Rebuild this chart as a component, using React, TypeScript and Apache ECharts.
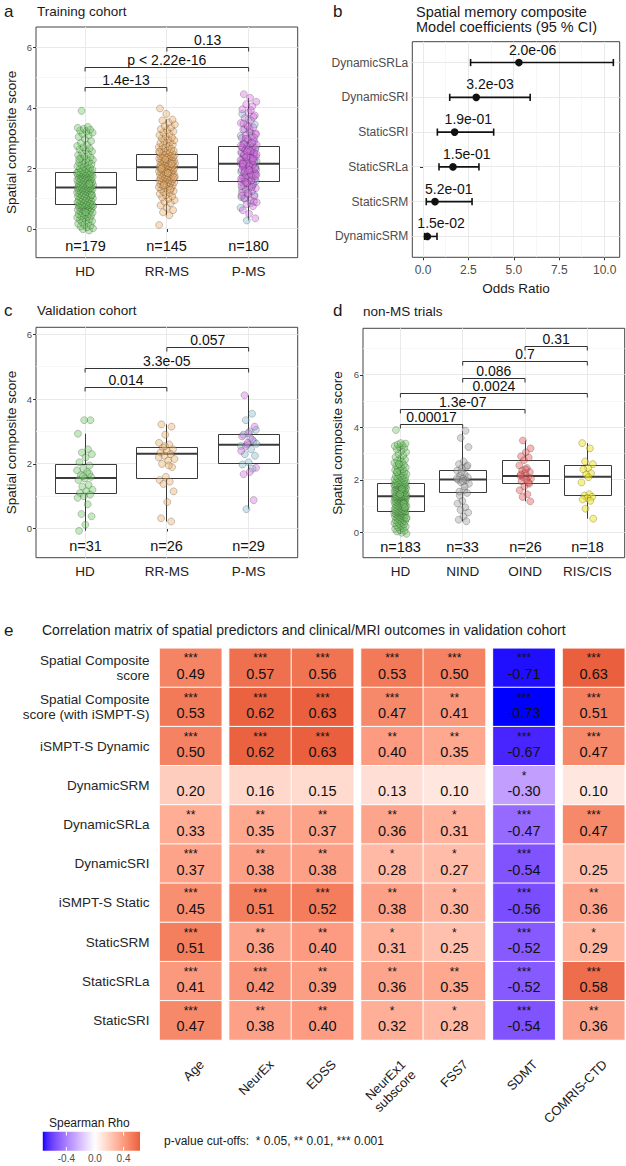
import React, { useEffect, useRef } from "react";
import * as echarts from "echarts";

const FONT = '"Liberation Sans", Arial, Helvetica, sans-serif';

// ---------------- a: training cohort ----------------
const groupsTrain = ["HD", "RR-MS", "P-MS"];
const trainHD = [
  -0.05, -0.01, 0.02, 0.05, 0.08, 0.11, 0.14, 0.17, 0.2, 0.23,
  0.26, 0.28, 0.31, 0.33, 0.36, 0.38, 0.4, 0.42, 0.44, 0.46,
  0.48, 0.5, 0.52, 0.54, 0.56, 0.58, 0.6, 0.61, 0.63, 0.65,
  0.66, 0.68, 0.69, 0.71, 0.72, 0.73, 0.75, 0.76, 0.77, 0.78,
  0.79, 0.79, 0.8, 0.8, 0.81, 0.83, 0.84, 0.86, 0.87, 0.89,
  0.9, 0.92, 0.93, 0.95, 0.96, 0.98, 0.99, 1.01, 1.02, 1.04,
  1.05, 1.07, 1.08, 1.1, 1.11, 1.13, 1.14, 1.16, 1.17, 1.19,
  1.2, 1.22, 1.23, 1.24, 1.26, 1.27, 1.28, 1.3, 1.31, 1.32,
  1.33, 1.34, 1.35, 1.36, 1.37, 1.38, 1.4, 1.41, 1.42, 1.43,
  1.44, 1.45, 1.46, 1.47, 1.49, 1.5, 1.51, 1.52, 1.53, 1.55,
  1.56, 1.57, 1.59, 1.6, 1.61, 1.63, 1.64, 1.65, 1.67, 1.68,
  1.69, 1.7, 1.72, 1.73, 1.74, 1.75, 1.77, 1.78, 1.79, 1.8,
  1.81, 1.82, 1.83, 1.84, 1.85, 1.85, 1.86, 1.87, 1.88, 1.89,
  1.9, 1.92, 1.94, 1.96, 1.98, 2.0, 2.02, 2.05, 2.07, 2.09,
  2.12, 2.14, 2.17, 2.19, 2.22, 2.25, 2.28, 2.31, 2.34, 2.37,
  2.4, 2.44, 2.48, 2.52, 2.56, 2.6, 2.63, 2.66, 2.7, 2.74,
  2.78, 2.84, 2.9, 2.97, 3.04, 3.1, 3.14, 3.18, 3.22, 3.25,
  3.28, 3.31, 3.34, 3.37, 3.9, 1.12, 0.55, 2.3, 1.48,
];
const trainRRMS = [
  0.13, 0.45, 0.55, 0.62, 0.7, 0.78, 0.85, 0.9, 0.95, 1.0,
  1.04, 1.08, 1.12, 1.16, 1.19, 1.22, 1.25, 1.28, 1.31, 1.34,
  1.36, 1.38, 1.4, 1.42, 1.44, 1.46, 1.48, 1.5, 1.52, 1.54,
  1.55, 1.57, 1.58, 1.6, 1.61, 1.62, 1.64, 1.65, 1.66, 1.68,
  1.69, 1.71, 1.72, 1.73, 1.75, 1.76, 1.77, 1.79, 1.8, 1.82,
  1.83, 1.84, 1.86, 1.87, 1.88, 1.9, 1.91, 1.93, 1.94, 1.95,
  1.97, 1.98, 1.99, 2.01, 2.02, 2.03, 2.04, 2.05, 2.06, 2.07,
  2.09, 2.1, 2.11, 2.12, 2.14, 2.15, 2.16, 2.17, 2.19, 2.2,
  2.21, 2.22, 2.24, 2.25, 2.26, 2.28, 2.29, 2.3, 2.32, 2.33,
  2.34, 2.36, 2.37, 2.38, 2.4, 2.41, 2.42, 2.44, 2.45, 2.46,
  2.48, 2.5, 2.52, 2.54, 2.56, 2.58, 2.6, 2.62, 2.64, 2.67,
  2.7, 2.72, 2.75, 2.78, 2.81, 2.84, 2.87, 2.9, 2.93, 2.96,
  2.99, 3.02, 3.06, 3.1, 3.14, 3.18, 3.22, 3.26, 3.3, 3.35,
  3.4, 3.45, 3.52, 3.58, 3.61, 3.8, 3.98, 1.3, 1.45, 1.7,
  1.85, 2.0, 2.15, 2.3, 2.55,
];
const trainPMSpink = [
  0.35, 0.5, 0.62, 0.75, 0.82, 0.88, 0.95, 1.02, 1.08, 1.14,
  1.2, 1.25, 1.3, 1.35, 1.4, 1.44, 1.48, 1.52, 1.56, 1.59,
  1.62, 1.65, 1.68, 1.71, 1.74, 1.77, 1.8, 1.83, 1.86, 1.89,
  1.92, 1.95, 1.98, 2.01, 2.04, 2.07, 2.1, 2.12, 2.14, 2.16,
  2.18, 2.21, 2.24, 2.27, 2.3, 2.33, 2.36, 2.39, 2.42, 2.45,
  2.48, 2.51, 2.54, 2.57, 2.6, 2.63, 2.66, 2.69, 2.71, 2.74,
  2.78, 2.82, 2.86, 2.9, 2.95, 3.0, 3.05, 3.1, 3.16, 3.22,
  3.28, 3.35, 3.42, 3.5, 3.58, 3.66, 3.75, 3.85, 3.95, 4.05,
  4.12, 4.2, 4.33, 4.45, 0.9, 1.18, 1.42, 1.6, 1.72, 1.84,
  1.96, 2.06, 2.13, 2.2, 2.28, 2.35, 2.44, 2.52, 2.62, 2.7,
  2.85, 2.98, 3.12, 3.3, 3.48, 3.7, 1.5, 1.66, 1.78, 1.9,
  2.0, 2.09, 2.17, 2.25, 2.38, 2.47, 2.58, 2.8, 3.02, 3.38,
  1.1, 1.38, 1.55, 1.75, 1.94, 2.15, 2.32, 2.56, 2.75, 3.92,
];
const trainPMSblue = [
  0.28, 0.7, 0.85, 1.0, 1.12, 1.22, 1.32, 1.42, 1.5, 1.58,
  1.64, 1.7, 1.76, 1.82, 1.88, 1.93, 1.98, 2.03, 2.08, 2.12,
  2.16, 2.2, 2.24, 2.29, 2.34, 2.39, 2.44, 2.5, 2.56, 2.62,
  2.68, 2.75, 2.82, 2.9, 2.98, 3.08, 3.18, 3.3, 3.45, 3.62,
  3.8, 1.45, 1.68, 1.95, 2.1, 2.26, 2.48, 2.72, 1.05, 2.6,
];
// [lower whisker, Q1, median, Q3, upper whisker]
const trainBoxes = [
  [-0.05, 0.8, 1.37, 1.87, 3.37],
  [0.45, 1.61, 2.04, 2.45, 3.61],
  [0.28, 1.58, 2.15, 2.71, 4.33],
];
const trainTests: [number, number, string][] = [
  [1, 2, "1.4e-13"],
  [1, 3, "p < 2.22e-16"],
  [2, 3, "0.13"],
];

// ---------------- b: model coefficients ----------------
const predictors = ["DynamicSRM", "StaticSRM", "StaticSRLa", "StaticSRI", "DynamicSRI", "DynamicSRLa"];
const oddsRatio = [0.24, 0.66, 1.65, 1.74, 2.93, 5.28];
const ciLow = [0.09, 0.18, 0.88, 0.79, 1.47, 2.62];
const ciHigh = [0.77, 2.7, 3.08, 3.89, 5.9, 10.48];
const coefP = ["1.5e-02", "5.2e-01", "1.5e-01", "1.9e-01", "3.2e-03", "2.0e-06"];
const orTicks = [0, 2.5, 5, 7.5, 10];

// ---------------- c: validation cohort ----------------
const valHD = [
  3.35, 3.35, 2.93, 2.45, 2.35, 2.3, 2.2, 2.05, 1.95, 1.85,
  1.8, 1.75, 1.65, 1.6, 1.55, 1.5, 1.35, 1.3, 1.2, 1.15,
  1.1, 1.05, 1.0, 0.95, 0.75, 0.45, 0.38, 0.12, -0.07, 1.7,
  1.62,
];
const valRRMS = [
  3.22, 3.15, 2.9, 2.65, 2.6, 2.5, 2.45, 2.4, 2.35, 2.3,
  2.25, 2.15, 2.1, 2.0, 1.9, 1.6, 1.5, 1.45, 1.38, 1.15,
  0.82, 0.32, 0.22, 2.55, 2.2, 1.95,
];
const valPMSpink = [4.12, 3.15, 2.95, 2.85, 2.75, 2.55, 1.88, 1.75, 1.68, 0.88, 2.65, 2.4];
const valPMSblue = [
  3.55, 3.35, 3.05, 3.0, 2.9, 2.7, 2.6, 2.55, 2.45, 2.3,
  2.25, 2.05, 1.98, 1.85, 0.6, 2.62, 2.8,
];
const valBoxes = [
  [-0.07, 1.09, 1.56, 1.98, 2.93],
  [0.22, 1.56, 2.31, 2.5, 3.22],
  [0.6, 2.02, 2.59, 2.9, 4.12],
];
const valTests: [number, number, string][] = [
  [1, 2, "0.014"],
  [1, 3, "3.3e-05"],
  [2, 3, "0.057"],
];

// ---------------- d: non-MS trials ----------------
const groupsNonMS = ["HD", "NIND", "OIND", "RIS/CIS"];
const nonMsHD = [
  -0.06, -0.02, 0.03, 0.06, 0.09, 0.13, 0.16, 0.19, 0.22, 0.25,
  0.27, 0.3, 0.32, 0.35, 0.37, 0.39, 0.42, 0.44, 0.46, 0.48,
  0.5, 0.52, 0.54, 0.56, 0.57, 0.59, 0.61, 0.63, 0.64, 0.66,
  0.67, 0.69, 0.7, 0.72, 0.73, 0.74, 0.76, 0.77, 0.78, 0.79,
  0.8, 0.8, 0.81, 0.82, 0.84, 0.85, 0.87, 0.88, 0.9, 0.91,
  0.93, 0.94, 0.96, 0.97, 0.99, 1.0, 1.02, 1.03, 1.05, 1.06,
  1.08, 1.09, 1.11, 1.12, 1.14, 1.15, 1.16, 1.18, 1.19, 1.21,
  1.22, 1.23, 1.25, 1.26, 1.27, 1.29, 1.3, 1.31, 1.32, 1.33,
  1.34, 1.35, 1.35, 1.36, 1.36, 1.37, 1.37, 1.38, 1.39, 1.4,
  1.41, 1.42, 1.44, 1.45, 1.46, 1.48, 1.49, 1.5, 1.52, 1.53,
  1.54, 1.56, 1.57, 1.58, 1.6, 1.61, 1.62, 1.64, 1.65, 1.66,
  1.68, 1.69, 1.7, 1.72, 1.73, 1.74, 1.76, 1.77, 1.78, 1.79,
  1.8, 1.81, 1.82, 1.83, 1.84, 1.85, 1.85, 1.86, 1.87, 1.88,
  1.9, 1.92, 1.94, 1.96, 1.98, 2.0, 2.02, 2.05, 2.07, 2.09,
  2.12, 2.14, 2.17, 2.19, 2.22, 2.25, 2.28, 2.31, 2.34, 2.37,
  2.4, 2.43, 2.47, 2.5, 2.54, 2.58, 2.61, 2.65, 2.69, 2.73,
  2.77, 2.82, 2.87, 2.93, 2.99, 3.05, 3.11, 3.17, 3.22, 3.26,
  3.29, 3.32, 3.35, 3.38, 3.4, 3.9, 1.1, 2.6, 0.55, 1.65,
  2.3, 0.95, 1.45,
];
const nonMsNIND = [
  3.87, 3.6, 3.25, 2.7, 2.6, 2.5, 2.45, 2.35, 2.2, 2.15,
  2.1, 2.05, 2.0, 1.98, 1.9, 1.85, 1.6, 1.55, 1.5, 1.2,
  1.1, 0.95, 0.85, 0.75, 0.6, 0.48, 0.42, 2.3, 2.05, 1.75,
  1.4, 2.55, 1.95,
];
const nonMsOIND = [
  3.5, 3.2, 3.05, 2.9, 2.85, 2.75, 2.55, 2.45, 2.35, 2.3,
  2.25, 2.15, 2.1, 2.1, 2.05, 2.0, 1.95, 1.85, 1.75, 1.6,
  1.45, 1.35, 1.18, 2.4, 2.2, 1.9,
];
const nonMsRIS = [
  3.4, 3.2, 2.7, 2.6, 2.45, 2.4, 2.25, 2.2, 1.9, 1.45,
  1.4, 1.35, 1.3, 1.25, 1.2, 0.9, 0.52, 2.1,
];
const nonMsBoxes = [
  [-0.06, 0.8, 1.37, 1.85, 3.4],
  [0.42, 1.51, 2.01, 2.37, 3.87],
  [1.18, 1.87, 2.15, 2.72, 3.5],
  [0.52, 1.41, 2.12, 2.56, 3.4],
];
const nonMsTests: [number, number, string][] = [
  [1, 2, "0.00017"],
  [1, 3, "1.3e-07"],
  [1, 4, "0.0024"],
  [2, 3, "0.086"],
  [2, 4, "0.7"],
  [3, 4, "0.31"],
];

// ---------------- e: correlation matrix ----------------
const predictorRows = [
  "Spatial Composite\nscore",
  "Spatial Composite\nscore (with iSMPT-S)",
  "iSMPT-S Dynamic",
  "DynamicSRM",
  "DynamicSRLa",
  "DynamicSRI",
  "iSMPT-S Static",
  "StaticSRM",
  "StaticSRLa",
  "StaticSRI",
];
const outcomeCols = ["Age", "NeurEx", "EDSS", "NeurEx1\nsubscore", "FSS7", "SDMT", "COMRIS-CTD"];
const outcomeGroups = [[0], [1, 2], [3, 4], [5], [6]];
const rho = [
  [0.49, 0.57, 0.56, 0.53, 0.5, -0.71, 0.63],
  [0.53, 0.62, 0.63, 0.47, 0.41, -0.73, 0.51],
  [0.5, 0.62, 0.63, 0.4, 0.35, -0.67, 0.47],
  [0.2, 0.16, 0.15, 0.13, 0.1, -0.3, 0.1],
  [0.33, 0.35, 0.37, 0.36, 0.31, -0.47, 0.47],
  [0.37, 0.38, 0.38, 0.28, 0.27, -0.54, 0.25],
  [0.45, 0.51, 0.52, 0.38, 0.3, -0.56, 0.36],
  [0.51, 0.36, 0.4, 0.31, 0.25, -0.52, 0.29],
  [0.41, 0.42, 0.39, 0.36, 0.35, -0.52, 0.58],
  [0.47, 0.38, 0.4, 0.32, 0.28, -0.54, 0.36],
];
const signif = [
  ["***", "***", "***", "***", "***", "***", "***"],
  ["***", "***", "***", "***", "**", "***", "***"],
  ["***", "***", "***", "**", "**", "***", "***"],
  ["", "", "", "", "", "*", ""],
  ["**", "**", "**", "**", "*", "***", "***"],
  ["***", "**", "**", "*", "*", "***", ""],
  ["***", "***", "***", "**", "*", "***", "**"],
  ["***", "**", "**", "*", "*", "***", "*"],
  ["***", "***", "**", "**", "**", "***", "***"],
  ["***", "**", "**", "*", "*", "***", "**"],
];
const legendTicks = [-0.4, 0, 0.4];

// ---------------- colour helpers (Lab-space diverging scale) ----------------
const lin = (c: number) => {
  c /= 255;
  return c <= 0.04045 ? c / 12.92 : Math.pow((c + 0.055) / 1.055, 2.4);
};
const delin = (c: number) => {
  const v = c <= 0.0031308 ? 12.92 * c : 1.055 * Math.pow(c, 1 / 2.4) - 0.055;
  return Math.round(Math.max(0, Math.min(1, v)) * 255);
};
const KAPPA = 24389 / 27;
const EPS = 216 / 24389;
function hexToLab(hex: string) {
  const r = lin(parseInt(hex.slice(1, 3), 16));
  const g = lin(parseInt(hex.slice(3, 5), 16));
  const b = lin(parseInt(hex.slice(5, 7), 16));
  const X = (0.4124564 * r + 0.3575761 * g + 0.1804375 * b) / 0.95047;
  const Y = 0.2126729 * r + 0.7151522 * g + 0.072175 * b;
  const Z = (0.0193339 * r + 0.119192 * g + 0.9503041 * b) / 1.08883;
  const f = (t: number) => (t > EPS ? Math.cbrt(t) : (KAPPA * t + 16) / 116);
  const fx = f(X), fy = f(Y), fz = f(Z);
  return [116 * fy - 16, 500 * (fx - fy), 200 * (fy - fz)];
}
function labToRgb(L: number, a: number, bb: number) {
  const fy = (L + 16) / 116;
  const fx = fy + a / 500;
  const fz = fy - bb / 200;
  const finv = (t: number) => (t * t * t > EPS ? t * t * t : (116 * t - 16) / KAPPA);
  const X = finv(fx) * 0.95047, Y = finv(fy), Z = finv(fz) * 1.08883;
  const R = 3.2404542 * X - 1.5371385 * Y - 0.4985314 * Z;
  const G = -0.969266 * X + 1.8760108 * Y + 0.041556 * Z;
  const B = 0.0556434 * X - 0.2040259 * Y + 1.0572252 * Z;
  return `rgb(${delin(R)},${delin(G)},${delin(B)})`;
}
const LAB_LOW = hexToLab("#0000FF");
const LAB_MID = hexToLab("#FFFFFF");
const LAB_HIGH = hexToLab("#E0401F");

const allRho = rho.flat();
const rhoMin = Math.min(...allRho);
const rhoMax = Math.max(...allRho);
const rhoSpan = Math.max(Math.abs(rhoMin), Math.abs(rhoMax));
function rhoColor(v: number) {
  const t = Math.min(1, Math.abs(v) / rhoSpan);
  const end = v < 0 ? LAB_LOW : LAB_HIGH;
  return labToRgb(
    LAB_MID[0] + t * (end[0] - LAB_MID[0]),
    LAB_MID[1] + t * (end[1] - LAB_MID[1]),
    LAB_MID[2] + t * (end[2] - LAB_MID[2])
  );
}
const N_STOPS = 41;
const rhoStops = Array.from({ length: N_STOPS }, (_, i) =>
  rhoColor(rhoMin + ((rhoMax - rhoMin) * i) / (N_STOPS - 1))
);

// ---------------- drawing helpers ----------------
const JITTER = 0.1;
const jitter = (i: number, seed: number) => ((((i + 1) * 0.6180339887 + seed) % 1) - 0.5) * 2 * JITTER;

const PT_BORDER = "rgba(35,35,35,0.5)";
function pointSeries(values: number[], cat: number, fill: string, axis: number, seed: number) {
  return {
    type: "scatter",
    xAxisIndex: axis,
    yAxisIndex: axis,
    silent: true,
    z: 3,
    symbolSize: 7,
    itemStyle: { color: fill, borderColor: PT_BORDER, borderWidth: 0.6 },
    data: values.map((v, i) => [cat + jitter(i, seed), v]),
  };
}

const crisp = (v: number) => Math.round(v - 0.5) + 0.5;

// Background grid lines: [value, orientation (0 = horizontal, 1 = vertical), major flag]
function gridLineSeries(axis: number, lines: number[][]) {
  return {
    type: "custom",
    xAxisIndex: axis,
    yAxisIndex: axis,
    silent: true,
    z: 1,
    data: lines,
    renderItem: (params: any, api: any) => {
      const cs = params.coordSys;
      const v = api.value(0);
      const vertical = api.value(1) === 1;
      const major = api.value(2) === 1;
      const style = { stroke: major ? "#e9e9e9" : "#f3f3f3", lineWidth: major ? 1 : 0.7 };
      if (vertical) {
        const x = crisp(api.coord([v, 0])[0]);
        return { type: "line", shape: { x1: x, y1: cs.y, x2: x, y2: cs.y + cs.height }, style };
      }
      const y = crisp(api.coord([0, v])[1]);
      return { type: "line", shape: { x1: cs.x, y1: y, x2: cs.x + cs.width, y2: y }, style };
    },
  };
}

const N_LABEL_Y = -0.55;
function boxSeries(axis: number, boxes: number[][], counts: number[]) {
  return {
    type: "custom",
    xAxisIndex: axis,
    yAxisIndex: axis,
    silent: true,
    z: 2,
    data: boxes.map((b, i) => [i + 1, ...b, counts[i]]),
    renderItem: (_params: any, api: any) => {
      const x = api.value(0);
      const half = api.size([0.375, 0])[0];
      const cx = crisp(api.coord([x, 0])[0]);
      const yLo = api.coord([x, api.value(1)])[1];
      const yQ1 = crisp(api.coord([x, api.value(2)])[1]);
      const yMed = api.coord([x, api.value(3)])[1];
      const yQ3 = crisp(api.coord([x, api.value(4)])[1]);
      const yHi = api.coord([x, api.value(5)])[1];
      const yN = api.coord([x, N_LABEL_Y])[1];
      const stroke = "#3a3a3a";
      const bx = Math.round(cx - half) + 0.5;
      const bw = Math.round(2 * half);
      return {
        type: "group",
        children: [
          { type: "line", shape: { x1: cx, y1: yHi, x2: cx, y2: yQ3 }, style: { stroke, lineWidth: 1 } },
          { type: "line", shape: { x1: cx, y1: yQ1, x2: cx, y2: yLo }, style: { stroke, lineWidth: 1 } },
          {
            type: "rect",
            shape: { x: bx, y: yQ3, width: bw, height: yQ1 - yQ3 },
            style: { fill: "#ffffff", stroke, lineWidth: 1 },
          },
          {
            type: "line",
            shape: { x1: bx, y1: yMed, x2: bx + bw, y2: yMed },
            style: { stroke, lineWidth: 2 },
          },
          {
            type: "text",
            x: cx,
            y: yN,
            style: {
              text: `n=${api.value(6)}`,
              fontSize: 14.5,
              fontFamily: FONT,
              fill: "#111",
              align: "center",
              verticalAlign: "middle",
            },
          },
        ],
      };
    },
  };
}

function bracketSeries(axis: number, tests: [number, number, string][], levels: number[]) {
  return {
    type: "custom",
    xAxisIndex: axis,
    yAxisIndex: axis,
    silent: true,
    z: 4,
    data: tests.map((t, i) => [t[0], t[1], levels[i]]),
    renderItem: (params: any, api: any) => {
      const p1 = api.coord([api.value(0), api.value(2)]);
      const p2 = api.coord([api.value(1), api.value(2)]);
      const y = crisp(p1[1]);
      const tip = 4;
      return {
        type: "group",
        children: [
          {
            type: "polyline",
            shape: { points: [[p1[0], y + tip], [p1[0], y], [p2[0], y], [p2[0], y + tip]] },
            style: { stroke: "#333", lineWidth: 1, fill: null },
          },
          {
            type: "text",
            x: (p1[0] + p2[0]) / 2,
            y: y - 8,
            style: {
              text: tests[params.dataIndex][2],
              fontSize: 14,
              fontFamily: FONT,
              fill: "#111",
              align: "center",
              verticalAlign: "middle",
            },
          },
        ],
      };
    },
  };
}

function categoryXAxis(grid: number, names: string[], min: number, max: number) {
  const vals = names.map((_, i) => i + 1);
  return {
    type: "value",
    gridIndex: grid,
    min,
    max,
    splitLine: { show: false },
    axisLine: { show: false },
    axisTick: { show: true, customValues: vals, length: 3, lineStyle: { color: "#333" } },
    axisLabel: {
      customValues: vals,
      formatter: (v: number) => names[Math.round(v) - 1] ?? "",
      fontSize: 13.5,
      fontFamily: FONT,
      color: "#222",
      margin: 7,
    },
  };
}

function scoreYAxis(grid: number, min: number, max: number, nameGap: number) {
  const vals = [0, 2, 4, 6];
  return {
    type: "value",
    gridIndex: grid,
    min,
    max,
    splitLine: { show: false },
    axisLine: { show: false },
    axisTick: { show: true, customValues: vals, length: 3, lineStyle: { color: "#333" } },
    axisLabel: { customValues: vals, fontSize: 9.5, fontFamily: FONT, color: "#4d4d4d", margin: 4 },
    name: "Spatial composite score",
    nameLocation: "middle",
    nameGap,
    nameTextStyle: { fontSize: 13.5, fontFamily: FONT, color: "#1a1a1a" },
  };
}

const txt = (x: number, y: number, text: string, fontSize: number, extra: any = {}) => ({
  type: "text",
  x,
  y,
  silent: true,
  rotation: extra.rotation ?? 0,
  style: {
    text,
    fontSize,
    fontFamily: FONT,
    lineHeight: extra.lineHeight,
    fill: extra.fill ?? "#1a1a1a",
    align: extra.align ?? "left",
    verticalAlign: extra.va ?? "middle",
  },
});

// ---------------- colours of groups ----------------
const C_HD = "rgba(118,204,108,0.55)";
const C_RR = "rgba(240,178,108,0.55)";
const C_PINK = "rgba(218,110,232,0.5)";
const C_BLUE = "rgba(140,196,212,0.55)";
const C_NIND = "rgba(165,165,165,0.55)";
const C_OIND = "rgba(236,92,92,0.55)";
const C_RIS = "rgba(240,228,30,0.65)";

function buildOption() {
  // Heatmap facets
  const HX0 = 159.5, CW = 62.3, GAP = 7.3, HTOP = 648.3, HH = 391.7;
  let colOffset = 0;
  const colCenters: number[] = [];
  const heatGrids = outcomeGroups.map((cols, gi) => {
    const left = HX0 + colOffset * CW + gi * GAP;
    cols.forEach((c, ci) => (colCenters[c] = left + (ci + 0.5) * CW));
    colOffset += cols.length;
    return { left, top: HTOP, width: cols.length * CW, height: HH };
  });

  const panelGrid = { show: true, borderColor: "#444", borderWidth: 1, backgroundColor: "#fff" };
  const grid = [
    { ...panelGrid, left: 36, top: 27, width: 261.7, height: 230.7 },
    { ...panelGrid, left: 412.3, top: 41.7, width: 207.4, height: 215.6 },
    { ...panelGrid, left: 36, top: 327.3, width: 261.7, height: 230.4 },
    { ...panelGrid, left: 363, top: 328.3, width: 261.7, height: 229.4 },
    ...heatGrids,
  ];

  const xAxis: any[] = [
    categoryXAxis(0, groupsTrain, 0.4, 3.6),
    {
      type: "value",
      gridIndex: 1,
      min: -0.59,
      max: 10.83,
      splitLine: { show: false },
      axisLine: { show: false },
      axisTick: { show: true, customValues: orTicks, length: 3, lineStyle: { color: "#333" } },
      axisLabel: {
        customValues: orTicks,
        formatter: (v: number) => v.toFixed(1),
        fontSize: 12,
        fontFamily: FONT,
        color: "#4d4d4d",
        margin: 7,
      },
      name: "Odds Ratio",
      nameLocation: "middle",
      nameGap: 24,
      nameTextStyle: { fontSize: 13.5, fontFamily: FONT, color: "#1a1a1a" },
    },
    categoryXAxis(2, groupsTrain, 0.4, 3.6),
    categoryXAxis(3, groupsNonMS, 0.4, 4.6),
    ...outcomeGroups.map((cols, gi) => ({
      type: "category",
      gridIndex: 4 + gi,
      data: cols.map((c) => outcomeCols[c]),
      axisLine: { show: false },
      axisTick: { show: false },
      splitLine: { show: false },
      axisLabel: { show: false },
    })),
  ];

  const predVals = predictors.map((_, i) => i + 1);
  const yAxis: any[] = [
    scoreYAxis(0, -0.95, 6.67, 18),
    {
      type: "value",
      gridIndex: 1,
      min: 0.4,
      max: 6.6,
      splitLine: { show: false },
      axisLine: { show: false },
      axisTick: { show: true, customValues: predVals, length: 3, lineStyle: { color: "#333" } },
      axisLabel: {
        customValues: predVals,
        formatter: (v: number) => predictors[Math.round(v) - 1] ?? "",
        fontSize: 12,
        fontFamily: FONT,
        color: "#4d4d4d",
        margin: 4,
      },
    },
    scoreYAxis(2, -0.9, 6.22, 18),
    scoreYAxis(3, -0.97, 7.78, 18.5),
    ...outcomeGroups.map((_, gi) => ({
      type: "category",
      gridIndex: 4 + gi,
      inverse: true,
      data: predictorRows,
      axisLine: { show: false },
      axisTick: { show: false },
      splitLine: { show: false },
      axisLabel:
        gi === 0
          ? { show: true, fontSize: 13.5, lineHeight: 14.5, fontFamily: FONT, color: "#262626", margin: 10 }
          : { show: false },
    })),
  ];

  const series: any[] = [];

  // a
  series.push(
    gridLineSeries(0, [
      [0, 0, 1], [2, 0, 1], [4, 0, 1], [6, 0, 1],
      [1, 0, 0], [3, 0, 0], [5, 0, 0],
      [1, 1, 1], [2, 1, 1], [3, 1, 1],
    ])
  );
  series.push(boxSeries(0, trainBoxes, [trainHD.length, trainRRMS.length, trainPMSpink.length + trainPMSblue.length]));
  series.push(pointSeries(trainHD, 1, C_HD, 0, 0.13));
  series.push(pointSeries(trainRRMS, 2, C_RR, 0, 0.41));
  series.push(pointSeries(trainPMSblue, 3, C_BLUE, 0, 0.77));
  series.push(pointSeries(trainPMSpink, 3, C_PINK, 0, 0.29));
  series.push(bracketSeries(0, trainTests, [4.66, 5.32, 6.0]));

  // b
  series.push(
    gridLineSeries(1, [
      ...orTicks.map((v) => [v, 1, 1]),
      [1.25, 1, 0], [3.75, 1, 0], [6.25, 1, 0], [8.75, 1, 0],
      ...predVals.map((v) => [v, 0, 1]),
    ])
  );
  series.push({
    type: "custom",
    xAxisIndex: 1,
    yAxisIndex: 1,
    silent: true,
    z: 3,
    data: predictors.map((_, i) => [oddsRatio[i], i + 1, ciLow[i], ciHigh[i]]),
    renderItem: (params: any, api: any) => {
      const y = api.value(1);
      const pc = api.coord([api.value(0), y]);
      const pl = api.coord([api.value(2), y]);
      const ph = api.coord([api.value(3), y]);
      const cap = 3.6;
      const st = { stroke: "#111", lineWidth: 1.6 };
      return {
        type: "group",
        children: [
          { type: "line", shape: { x1: pl[0], y1: pc[1], x2: ph[0], y2: pc[1] }, style: st },
          { type: "line", shape: { x1: pl[0], y1: pc[1] - cap, x2: pl[0], y2: pc[1] + cap }, style: st },
          { type: "line", shape: { x1: ph[0], y1: pc[1] - cap, x2: ph[0], y2: pc[1] + cap }, style: st },
          { type: "circle", shape: { cx: pc[0], cy: pc[1], r: 3.8 }, style: { fill: "#111" } },
          {
            type: "text",
            x: pc[0] - 10,
            y: pc[1] - 13,
            style: {
              text: coefP[params.dataIndex],
              fontSize: 14,
              fontFamily: FONT,
              fill: "#111",
              align: "left",
              verticalAlign: "middle",
            },
          },
        ],
      };
    },
  });

  // c
  series.push(
    gridLineSeries(2, [
      [0, 0, 1], [2, 0, 1], [4, 0, 1], [6, 0, 1],
      [1, 0, 0], [3, 0, 0], [5, 0, 0],
      [1, 1, 1], [2, 1, 1], [3, 1, 1],
    ])
  );
  series.push(boxSeries(2, valBoxes, [valHD.length, valRRMS.length, valPMSpink.length + valPMSblue.length]));
  series.push(pointSeries(valHD, 1, C_HD, 2, 0.21));
  series.push(pointSeries(valRRMS, 2, C_RR, 2, 0.55));
  series.push(pointSeries(valPMSblue, 3, C_BLUE, 2, 0.09));
  series.push(pointSeries(valPMSpink, 3, C_PINK, 2, 0.63));
  series.push(bracketSeries(2, valTests, [4.35, 4.96, 5.6]));

  // d
  series.push(
    gridLineSeries(3, [
      [0, 0, 1], [2, 0, 1], [4, 0, 1], [6, 0, 1],
      [1, 0, 0], [3, 0, 0], [5, 0, 0], [7, 0, 0],
      [1, 1, 1], [2, 1, 1], [3, 1, 1], [4, 1, 1],
    ])
  );
  series.push(
    boxSeries(3, nonMsBoxes, [nonMsHD.length, nonMsNIND.length, nonMsOIND.length, nonMsRIS.length])
  );
  series.push(pointSeries(nonMsHD, 1, C_HD, 3, 0.37));
  series.push(pointSeries(nonMsNIND, 2, C_NIND, 3, 0.11));
  series.push(pointSeries(nonMsOIND, 3, C_OIND, 3, 0.71));
  series.push(pointSeries(nonMsRIS, 4, C_RIS, 3, 0.47));
  series.push(bracketSeries(3, nonMsTests, [4.1, 4.7, 5.28, 5.86, 6.5, 7.1]));

  // e
  const heatIdx: number[] = [];
  outcomeGroups.forEach((cols, gi) => {
    heatIdx.push(series.length);
    series.push({
      type: "heatmap",
      xAxisIndex: 4 + gi,
      yAxisIndex: 4 + gi,
      silent: true,
      emphasis: { disabled: true },
      itemStyle: { borderColor: "#ffffff", borderWidth: 1 },
      label: {
        show: true,
        formatter: (p: any) => `{s|${p.data.stars || " "}}\n{v|${p.data.value[2].toFixed(2)}}`,
        rich: {
          s: { fontSize: 12, lineHeight: 12, fontFamily: FONT, color: "#111" },
          v: { fontSize: 14.5, lineHeight: 19, fontFamily: FONT, color: "#111" },
        },
      },
      data: predictorRows.flatMap((_, r) =>
        cols.map((c, ci) => ({ value: [ci, r, rho[r][c]], stars: signif[r][c] }))
      ),
    });
  });

  // Rotated outcome labels under the heatmap columns
  const colLabels = outcomeCols.map((name, c) =>
    txt(colCenters[c] + 6, HTOP + HH + 17, name, 13, {
      rotation: Math.PI / 4,
      align: "right",
      va: "top",
      lineHeight: 14.5,
    })
  );

  // Colour bar
  const LB = { x: 42.8, y: 1131.7, w: 97.2, h: 19 };
  const lbX = (v: number) => LB.x + ((v - rhoMin) / (rhoMax - rhoMin)) * LB.w;
  const legendEls: any[] = [
    txt(49, 1123, "Spearman Rho", 12),
    {
      type: "rect",
      silent: true,
      shape: { x: LB.x, y: LB.y, width: LB.w, height: LB.h },
      style: {
        fill: new echarts.graphic.LinearGradient(
          0, 0, 1, 0,
          rhoStops.map((c, i) => ({ offset: i / (N_STOPS - 1), color: c }))
        ),
      },
    },
    ...legendTicks.flatMap((v) => [
      {
        type: "line",
        silent: true,
        shape: { x1: lbX(v), y1: LB.y, x2: lbX(v), y2: LB.y + 3.8 },
        style: { stroke: "#fff", lineWidth: 1 },
      },
      {
        type: "line",
        silent: true,
        shape: { x1: lbX(v), y1: LB.y + LB.h - 3.8, x2: lbX(v), y2: LB.y + LB.h },
        style: { stroke: "#fff", lineWidth: 1 },
      },
      txt(lbX(v), 1158.5, v.toFixed(1), 10, { align: "center", fill: "#4d4d4d" }),
    ]),
    txt(164, 1141, "p-value cut-offs:  * 0.05, ** 0.01, *** 0.001", 12),
  ];

  const graphic = [
    txt(4, 11, "a", 17),
    txt(37, 11, "Training cohort", 13.5),
    txt(333, 11, "b", 17),
    txt(416, 12, "Spatial memory composite", 14.5),
    txt(416, 27, "Model coefficients (95 % CI)", 14.5),
    txt(4, 310, "c", 17),
    txt(37, 310, "Validation cohort", 13.5),
    txt(333, 310, "d", 17),
    txt(363, 311, "non-MS trials", 13.5),
    txt(4, 630, "e", 17),
    txt(42, 630, "Correlation matrix of spatial predictors and clinical/MRI outcomes in validation cohort", 14),
    ...colLabels,
    ...legendEls,
  ];

  return {
    animation: false,
    backgroundColor: "#ffffff",
    textStyle: { fontFamily: FONT },
    grid,
    xAxis,
    yAxis,
    visualMap: {
      type: "continuous",
      show: false,
      min: rhoMin,
      max: rhoMax,
      dimension: 2,
      seriesIndex: heatIdx,
      inRange: { color: rhoStops },
    },
    series,
    graphic,
  };
}

export default function App() {
  const ref = useRef<HTMLDivElement>(null);
  useEffect(() => {
    const chart = echarts.init(ref.current!, null, { renderer: "svg" });
    chart.setOption(buildOption() as any);
    return () => chart.dispose();
  }, []);
  return (
    <div
      ref={ref}
      style={{ position: "fixed", left: 0, top: 0, width: 626, height: 1166, background: "#fff" }}
    />
  );
}
